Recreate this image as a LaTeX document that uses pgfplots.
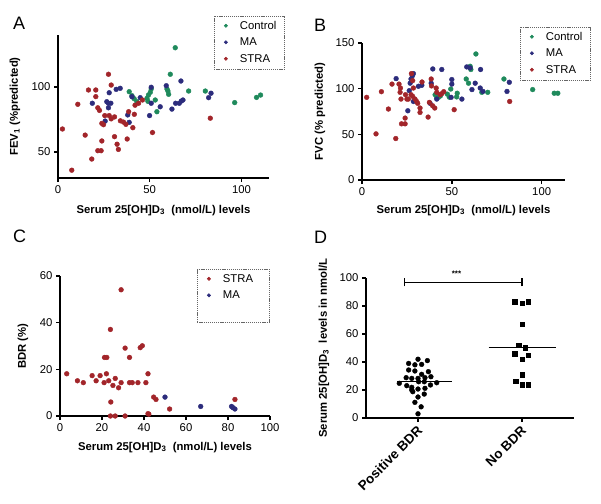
\documentclass[border=0pt]{standalone}
\usepackage{fontspec}
\setmainfont{Liberation Sans}
\usepackage{pgfplots}
\pgfplotsset{compat=1.18}
\definecolor{ctrl}{HTML}{1F8A5C}
\definecolor{ma}{HTML}{2C2C7C}
\definecolor{stra}{HTML}{A2252A}
\newcommand\tkfont{\fontsize{11.3}{13}\selectfont}
\newcommand\lbfont{\fontsize{11.3}{13}\selectfont\bfseries}

\pgfplotsset{
  gp/.style={
    scale only axis, axis lines=left,
    axis line style={-, line width=1.7pt},
    tick align=outside, major tick length=4pt,
    tick style={line width=1.4pt, black},
    every tick label/.append style={font=\tkfont},
    /pgf/number format/assume math mode=true,
    clip=false,
    legend cell align=left,
    legend image code/.code={\path[draw=none, fill=none] (-4.7pt,0pt) -- (2pt,0pt);
      \draw[##1, mark size=1.6pt] plot coordinates {(0pt,0.5pt)};},
    legend style={font=\tkfont, draw=black!60, line width=0.6pt,
      dash pattern=on 1.2pt off 0.9pt, inner xsep=7pt, inner ysep=3pt,
      row sep=2.5pt,
      nodes={inner xsep=1pt, inner ysep=2pt, text height=8pt, text depth=2pt, solid},
      /tikz/every odd column/.append style={column sep=11pt}},
  },
  dots/.style={only marks, mark=*, mark size=2.4pt, color=#1},
  ylab/.style={every axis y label/.style={at={(axis description cs:0,0.5)},
    xshift=-#1, rotate=90, anchor=center, font=\lbfont}},
  xlab/.style={every axis x label/.style={at={(axis description cs:0.5,0)},
    yshift=-#1, anchor=base, font=\lbfont}},
}

\begin{document}
\begin{tikzpicture}
\useasboundingbox (0,0) rectangle (601pt,-503pt);

% panel letters
\node[anchor=base west, inner sep=0pt, font=\fontsize{18}{20}\selectfont] at (13pt,-30pt) {A};
\node[anchor=base west, inner sep=0pt, font=\fontsize{18}{20}\selectfont] at (314pt,-31pt) {B};
\node[anchor=base west, inner sep=0pt, font=\fontsize{18}{20}\selectfont] at (13pt,-242pt) {C};
\node[anchor=base west, inner sep=0pt, font=\fontsize{18}{20}\selectfont] at (314pt,-243pt) {D};

% ---------- A ----------
\begin{axis}[gp, width=211pt, height=143pt, at={(58pt,-178pt)}, anchor=south west,
  xmin=0, xmax=115, ymin=30, ymax=140,
  xtick={0,50,100}, ytick={50,100},
  ylab=43pt, xlab=35pt,
  xlabel={Serum 25[OH]D$_{\mathbf{3}}$\ \ (nmol/L) levels},
  ylabel={FEV$_{\mathbf{1}}$ (\%predicted)},
  legend style={at={(0.739,1.133)}, anchor=north west}]
\addplot[dots=ctrl] coordinates {
(38.8,96.4) (40.3,93.3) (41.5,91) (43,88.7) (48.5,91.3) (49.3,93.8) (50.3,95.9)
(50.8,98.5) (53,90) (53.9,81) (59.4,98.5) (59.9,96.9) (60.3,94.4) (61.2,109.8)
(63.9,130.2) (71.2,96.9) (80.3,96.9) (96.3,88) (108.2,92) (110.4,93.8) (49,89)};
\addplot[dots=ma] coordinates {
(18.7,87.5) (25.7,73.8) (26.6,88.7) (27.5,87.5) (27.9,95.6) (27.5,84) (28.8,87.5)
(31.7,98.2) (33.9,99) (38,78.5) (38.8,72.8) (40.3,92.5) (44.8,91.8) (49.9,78)
(50.8,99.8) (50.8,87.5) (55.7,84.8) (59,101) (62.1,83) (64.1,87.5) (66.1,87.5)
(67.2,89.2) (68.1,90) (67,104.6) (82.1,91.8) (83.4,95.2)};
\addplot[dots=stra] coordinates {
(2.4,67.7) (7.5,36) (10.8,86.7) (14.8,63) (16.6,97.7) (18.4,44.6) (20.6,97.7)
(20.6,92.6) (21.7,84) (22.6,82) (21.7,51) (23.5,51) (23.9,72) (24.8,71) (23.9,58.5)
(25.5,78) (27.5,109.8) (27.9,78) (29,101.5) (29,75.5) (30.8,77) (30.8,61.8)
(32.2,56) (32.9,52) (34,74) (35.7,73) (37,71.3) (37.7,60) (38.5,81) (40.8,68.7)
(41.6,79) (42,86) (43.9,87.5) (46,90) (51.5,65) (83,76)};
\legend{Control, MA, STRA}
\end{axis}

% ---------- B ----------
\begin{axis}[gp, width=203pt, height=137pt, at={(362pt,-180pt)}, anchor=south west,
  xmin=0, xmax=113, ymin=0, ymax=150,
  xtick={0,50,100}, ytick={0,50,100,150},
  ylab=42pt, xlab=33pt,
  xlabel={Serum 25[OH]D$_{\mathbf{3}}$\ \ (nmol/L) levels},
  ylabel={FVC (\% predicted)},
  legend style={at={(0.778,1.117)}, anchor=north west}]
\addplot[dots=ctrl] coordinates {
(40.7,93.4) (41.6,90.5) (42.5,90.5) (43.6,92) (47.5,94) (48.6,90.7) (49.4,99.6)
(52.7,91) (53,95) (58,110.6) (59.3,106) (60.2,124.5) (60.6,121) (63.4,138)
(66.7,96) (70,96) (79,110.6) (95,99) (107,95) (109,95)};
\addplot[dots=ma] coordinates {
(19,111) (25.5,75.8) (26.3,97.8) (26.8,106) (27.3,110.6) (28,114) (28.6,116.5)
(28.6,86) (31.4,102.6) (33.3,103.7) (37.9,84) (38.5,106) (39.4,121.6) (41.6,88.6)
(44.4,121) (50,110) (50,105) (49.6,90.5) (55.6,88.6) (58.3,123.8) (60.2,122.7)
(61.2,99) (63,106) (65.8,100.7) (66,121) (67.3,97) (80.7,97) (82,107)};
\addplot[dots=stra] coordinates {
(2.6,90.5) (7.8,50.5) (10.8,96.7) (14.7,77.7) (16.7,105) (18.8,45.4) (20.6,105)
(21.2,96) (21.7,88.6) (21.4,100.7) (22,61.5) (24,61.5) (24,67.8) (24.2,93.4)
(25,88.6) (25.8,88.6) (27.5,116.5) (28.2,108.8) (28.6,100.7) (27.3,93.4)
(28.2,91.6) (29.5,88.6) (30.4,86) (31,84) (32.3,78.8) (32.3,74) (33.4,107.3)
(36.8,68.9) (37.5,85) (38.5,110.6) (38.7,103) (39.3,81.3) (40.5,78.8) (41.3,100.7)
(41.6,96) (43.5,93.4) (44.4,94.5) (45.5,96.7) (51.3,77) (82.2,86)};
\legend{Control, MA, STRA}
\end{axis}

% ---------- C ----------
\begin{axis}[gp, width=210pt, height=140pt, at={(60pt,-416pt)}, anchor=south west,
  xmin=0, xmax=100, ymin=0, ymax=60,
  xtick={0,20,...,100}, ytick={0,20,40,60},
  ylab=37pt, xlab=34pt,
  xlabel={Serum 25[OH]D$_{\mathbf{3}}$\ \ (nmol/L) levels},
  ylabel={BDR (\%)},
  legend style={at={(0.652,1.05)}, anchor=north west,
    /tikz/every even column/.append style={text width=38pt}}]
\addplot[dots=stra] coordinates {
(3.2,18.1) (8.3,15.1) (11.1,14.3) (15.3,17.3) (17.2,15.1) (19.1,17.3) (21,14.3)
(21.2,25.1) (22.3,25.1) (22.1,18.1) (23.2,15.1) (24,37.1) (24.2,6) (24,0)
(25.2,13.1) (26.3,16.1) (26.3,0) (27.9,12.1) (29.1,54.1) (29.1,14.3) (31,29.1)
(31,0) (33.1,25.1) (33.1,14.3) (34.4,14.3) (37.1,14.3) (38.2,29.3) (39.2,30.1)
(40.9,14.3) (41.9,18.1) (41.9,1) (42.3,0.8) (44.6,8.1) (45.7,7.1) (52.2,3) (83.3,7.1)};
\addplot[dots=ma] coordinates {
(50,8.1) (67,4.1) (81.7,4.1) (82.3,3.6) (83.3,3)};
\addlegendimage{empty legend}
\legend{STRA, MA, \phantom{X}}
\end{axis}

% ---------- D ----------
\begin{axis}[gp, width=208pt, height=140pt, at={(366pt,-418pt)}, anchor=south west,
  xmin=-0.5, xmax=1.5, ymin=0, ymax=100,
  xtick={0,1}, xticklabels={Positive BDR, No BDR},
  xticklabel style={rotate=45, anchor=east, yshift=-6pt,
    font=\fontsize{13.4}{15}\selectfont\bfseries},
  ytick={0,20,...,100},
  ylab=42pt,
  ylabel={Serum 25[OH]D$_{\mathbf{3}}$\ \ levels in nmol/L}]
\addplot[only marks, mark=*, mark size=2.4pt, black] coordinates {
(0,42) (0.09,41) (-0.09,39) (-0.03,38) (0.035,38.3) (-0.09,34.3) (-0.03,33.6)
(0.1,33.1) (0.035,31.2) (-0.114,28.8) (-0.06,28.3) (0,28.3) (0.067,28.8)
(0.124,29.5) (-0.18,24.8) (-0.108,23.1) (-0.06,21.9) (0.006,25.9) (0.06,25.9)
(0.12,23.6) (0.18,25.2) (-0.06,20) (0,20.7) (0.067,21.2) (-0.05,18.8) (0.06,17.1)
(0,15) (-0.03,11.2) (0.03,8) (0,3)};
\addplot[only marks, mark=square*, mark size=2.3pt, black] coordinates {
(0.93,82.9) (1,82.1) (1.06,82.9) (1,66.9) (0.97,51.9) (1.03,50.2) (0.93,46)
(1,41.9) (1.06,44.8) (1,31) (0.94,26.2) (1,23.8) (1.06,23.8)};
\addplot[black, line width=1.3pt] coordinates {(-0.2,26) (0.33,26)};
\addplot[black, line width=1.3pt] coordinates {(0.68,50.5) (1.33,50.5)};
\addplot[black, line width=1.2pt] coordinates {(-0.13,97) (1.0,97)};
\addplot[black, line width=1.2pt] coordinates {(-0.13,94) (-0.13,99.7)};
\addplot[black, line width=1.2pt] coordinates {(1.0,94) (1.0,99.7)};
\node[font=\fontsize{8}{9}\selectfont\bfseries, anchor=south] at (axis cs:0.37,98.5) {***};
\end{axis}
\end{tikzpicture}
\end{document}
